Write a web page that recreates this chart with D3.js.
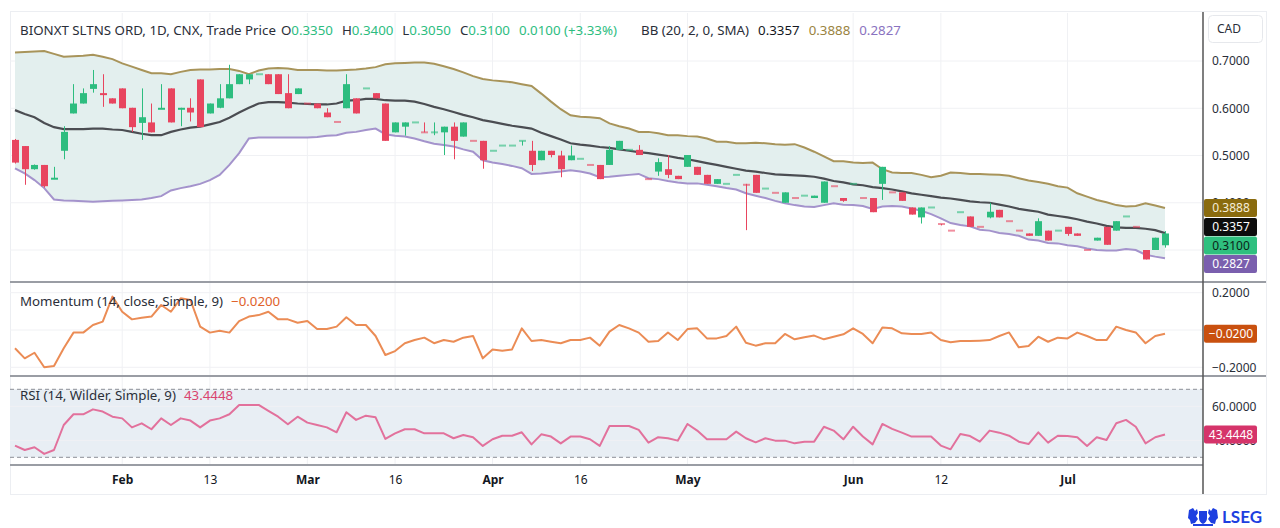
<!DOCTYPE html>
<html>
<head>
<meta charset="utf-8">
<script src="https://cdn.jsdelivr.net/npm/d3@7"></script>
<style>
  html, body { margin: 0; padding: 0; background: #fff; }
  svg { display: block; font-family: "Noto Sans", sans-serif; }
</style>
</head>
<body>
<div id="chart"></div>
<script>
// ---- data (daily candles, index 0 = first visible bar) ----
const opens = [
  .533,.520,.471,.480,.452,.510,.589,.610,.641,.632, .621,.642,.601,.569,.570,.600,.642,.600,.601,.661,
  .589,.601,.621,.651,.661,.672,.672,.672,.632,.630, .610,.610,.591,.571,.600,.621,.642,.632,.610,.549,
  .561,.570,.549,.549,.549,.561,.540,.531,.531,.510, .521,.521,.531,.510,.490,.510,.500,.500,.493,.480,
  .480,.480,.512,.512,.512,.450,.466,.471,.457,.476, .476,.459,.440,.440,.459,.438,.459,.430,.421,.400,
  .410,.415,.410,.400,.435,.410,.440,.410,.410,.440, .422,.422,.390,.369,.390,.355,.341,.380,.371,.349,
  .369,.385,.361,.341,.335,.330,.341,.341,.349,.335, .300,.320,.349,.341,.371,.349,.300,.326,.335
];
const highs = [
  .535,.520,.481,.480,.476,.562,.651,.642,.681,.672, .621,.642,.601,.642,.610,.651,.642,.601,.621,.661,
  .610,.651,.692,.672,.672,.672,.672,.672,.672,.642, .610,.610,.600,.571,.672,.621,.642,.632,.610,.570,
  .570,.570,.570,.570,.561,.570,.570,.531,.531,.510, .521,.521,.531,.531,.510,.510,.510,.521,.493,.480,
  .480,.520,.531,.512,.522,.450,.494,.501,.457,.501, .476,.459,.450,.440,.459,.440,.459,.430,.421,.422,
  .410,.415,.415,.445,.435,.410,.440,.410,.410,.476, .422,.422,.390,.390,.390,.355,.341,.380,.371,.349,
  .400,.385,.361,.341,.335,.367,.341,.341,.349,.335, .300,.326,.349,.361,.371,.349,.300,.326,.340
];
const lows = [
  .483,.438,.470,.432,.450,.492,.589,.610,.633,.603, .610,.600,.550,.533,.549,.600,.570,.562,.572,.560,
  .589,.600,.621,.651,.651,.672,.651,.630,.600,.630, .610,.600,.581,.571,.600,.589,.642,.621,.531,.549,
  .542,.570,.549,.543,.501,.492,.540,.531,.472,.510, .521,.521,.521,.467,.490,.496,.454,.490,.493,.480,
  .450,.480,.512,.512,.501,.450,.457,.452,.450,.476, .459,.440,.440,.440,.459,.342,.421,.430,.421,.400,
  .410,.415,.410,.400,.435,.402,.440,.410,.380,.406, .422,.404,.375,.356,.390,.352,.341,.380,.349,.349,
  .367,.369,.361,.341,.330,.330,.320,.341,.330,.330, .300,.320,.311,.341,.371,.349,.280,.300,.305
];
const closes = [
  .485,.471,.480,.435,.453,.550,.610,.632,.651,.631, .610,.600,.560,.581,.549,.601,.570,.601,.591,.560,
  .610,.621,.651,.672,.672,.672,.651,.630,.600,.642, .610,.600,.581,.571,.651,.589,.642,.621,.531,.570,
  .570,.570,.549,.549,.561,.531,.570,.531,.490,.510, .521,.521,.531,.480,.510,.501,.471,.490,.493,.480,
  .450,.512,.531,.512,.501,.450,.486,.459,.450,.501, .459,.440,.450,.440,.459,.438,.421,.430,.421,.422,
  .410,.415,.415,.445,.435,.404,.440,.410,.380,.476, .422,.404,.375,.390,.390,.355,.341,.380,.349,.349,
  .381,.369,.361,.341,.330,.361,.320,.341,.334,.330, .300,.326,.311,.361,.371,.349,.280,.300,.310
];
// candle colour as drawn (u = rise vs previous close, d = fall)
const candleDir = ("dduduuuuud dddudududd uuuuuudddu ddddududdu uuduududdu " +
                   "uuududduud duuudduddu dduuuddudu duuudduddu ddduuddudd " +
                   "uddddududd duduudduu").replace(/ /g, "").split("");

const bbUpper = [
  .718,.719,.720,.721,.715,.709,.710,.711,.713,.709, .704,.695,.688,.681,.674,.674,.672,.677,.681,.682,
  .682,.683,.683,.679,.672,.680,.684,.685,.684,.681, .681,.681,.680,.680,.681,.682,.684,.687,.693,.695,
  .696,.697,.697,.694,.689,.683,.676,.668,.662,.659, .657,.655,.651,.647,.631,.614,.598,.585,.582,.581,
  .579,.568,.562,.557,.550,.550,.547,.543,.543,.541, .540,.536,.529,.529,.526,.526,.527,.526,.524,.523,
  .524,.517,.508,.498,.488,.488,.485,.484,.485,.471, .464,.463,.463,.459,.454,.457,.464,.463,.461,.461,
  .460,.459,.457,.452,.447,.444,.440,.435,.432,.420, .413,.406,.401,.395,.392,.393,.399,.394,.3888
];
const bbMiddle = [
  .596,.588,.581,.569,.560,.556,.556,.556,.557,.557, .555,.554,.550,.546,.543,.543,.550,.555,.559,.561,
  .566,.571,.580,.591,.601,.610,.613,.613,.612,.610, .609,.608,.608,.610,.616,.617,.620,.620,.617,.616,
  .616,.614,.609,.603,.598,.592,.586,.581,.575,.571, .567,.563,.560,.557,.548,.541,.534,.526,.523,.521,
  .518,.516,.513,.510,.507,.505,.502,.499,.495,.492, .488,.484,.480,.476,.472,.468,.466,.463,.460,.459,
  .458,.457,.455,.451,.446,.443,.439,.437,.433,.431, .428,.424,.420,.417,.414,.411,.409,.406,.403,.401,
  .400,.396,.392,.387,.384,.381,.375,.372,.369,.365, .360,.356,.351,.348,.347,.347,.345,.342,.3357
];
const bbLower = [
  .473,.462,.448,.431,.407,.405,.404,.403,.402,.403, .404,.405,.406,.407,.410,.414,.426,.431,.435,.440,
  .448,.459,.480,.505,.536,.538,.538,.538,.538,.538, .538,.539,.542,.543,.548,.550,.554,.557,.545,.542,
  .540,.536,.530,.525,.522,.519,.513,.508,.490,.485, .482,.478,.473,.461,.462,.464,.466,.469,.466,.462,
  .454,.455,.457,.459,.461,.452,.450,.446,.443,.441, .441,.438,.435,.431,.428,.420,.415,.410,.404,.399,
  .395,.392,.391,.395,.399,.396,.395,.393,.387,.392, .393,.392,.388,.383,.376,.367,.357,.353,.350,.343,
  .341,.336,.334,.330,.322,.320,.315,.314,.310,.308, .303,.300,.299,.299,.302,.300,.290,.286,.2827
];
const momentum = [
  -0.098,-0.152,-0.122,-0.200,-0.193,-0.098,-0.014,-0.014,0.027,0.045,
  0.179,0.098,0.057,0.066,0.072,0.134,0.098,0.170,0.161,0.018,
  -0.014,-0.004,-0.014,0.048,0.072,0.080,0.098,0.057,0.057,0.039,
  0.048,0.005,0.005,0.018,0.068,0.027,0.027,-0.032,-0.134,-0.113,
  -0.071,-0.054,-0.041,-0.071,-0.054,-0.063,-0.041,-0.032,-0.152,-0.104,
  -0.111,-0.104,0.009,-0.059,-0.054,-0.063,-0.071,-0.054,-0.054,-0.041,
  -0.084,-0.009,0.027,0.009,-0.014,-0.063,-0.059,-0.013,-0.054,0.005,
  0.009,-0.045,-0.045,-0.032,0.018,-0.068,-0.084,-0.071,-0.071,-0.021,
  -0.050,-0.039,-0.030,-0.050,-0.036,-0.023,0.009,-0.021,-0.071,0.013,
  0.009,-0.018,-0.021,-0.021,-0.013,-0.054,-0.066,-0.059,-0.059,-0.057,
  -0.054,-0.032,-0.013,-0.093,-0.086,-0.036,-0.063,-0.041,-0.045,-0.014,
  -0.032,-0.054,-0.054,0.018,0.000,-0.013,-0.071,-0.032,-0.020
];
const rsi = [
  36.9,34.3,35.9,32.0,34.3,49.0,55.3,55.3,58.2,56.9,
  53.9,52.9,47.6,50.0,46.5,52.9,49.0,52.9,51.6,47.6,
  51.6,52.9,55.3,60.8,60.8,60.8,57.3,53.9,49.4,53.9,
  50.4,49.0,47.6,44.7,56.5,52.0,54.5,53.5,40.8,44.1,
  46.5,46.5,44.1,44.1,44.1,41.2,43.1,41.8,36.7,40.6,
  42.7,42.7,44.7,37.6,43.5,42.2,38.2,42.2,42.2,40.6,
  36.7,48.4,48.4,48.4,46.1,38.6,41.8,41.2,39.8,49.6,
  45.7,40.6,40.6,40.6,45.1,41.2,38.8,41.2,39.8,39.8,
  38.2,39.2,39.2,48.0,45.7,40.6,48.0,42.2,37.6,49.6,
  46.7,44.5,42.2,42.2,42.2,36.9,34.7,43.7,42.5,39.2,
  45.7,44.5,42.7,39.2,37.8,44.7,38.6,42.7,42.5,41.8,
  36.7,41.8,40.2,50.0,52.0,48.0,38.2,41.8,43.4448
];

const tickIndex = [11, 20, 30, 39, 49, 58, 69, 86, 95, 108];
const tickLabels = ["Feb", "13", "Mar", "16", "Apr", "16", "May", "Jun", "12", "Jul"];
const priceTicks = [0.3, 0.4, 0.5, 0.6, 0.7];
const momTicks = [-0.2, 0, 0.2];
const rsiTicks = [40, 60];

// ---- layout ----
const W = 1280, H = 528;
const plotL = 10, plotR = 1203;
const pricePane = { top: 13, bottom: 282 };
const momPane = { top: 283, bottom: 376 };
const rsiPane = { top: 377, bottom: 465 };
const n = closes.length;

const upCol = "#2dbd7f", downCol = "#e8455f";
const dark = "#131722";
const grid = "#f0f1f4";

const x = d3.scaleLinear().domain([0, n - 1]).range([15, 1165]);
const yP = d3.scaleLinear().domain([0.3, 0.7]).range([250, 61]);
const yM = d3.scaleLinear().domain([-0.2, 0.2]).range([367.3, 292.7]);
const yR = d3.scaleLinear().domain([30, 70]).range([457.3, 389.3]);
const f4 = d3.format(".4f");

const svg = d3.select("#chart").append("svg")
  .attr("width", W).attr("height", H);

// card outline
svg.append("rect")
  .attr("x", 10.5).attr("y", 11.5).attr("width", 1256).attr("height", 483)
  .attr("fill", "#fff").attr("stroke", "#eceef2");

const defs = svg.append("defs");
[["clipP", pricePane], ["clipM", momPane], ["clipR", rsiPane]].forEach(([id, p]) => {
  defs.append("clipPath").attr("id", id).append("rect")
    .attr("x", plotL).attr("y", p.top).attr("width", plotR - plotL).attr("height", p.bottom - p.top);
});

// vertical grid
svg.append("g").selectAll("line").data(tickIndex).join("line")
  .attr("x1", d => x(d)).attr("x2", d => x(d))
  .attr("y1", pricePane.top).attr("y2", rsiPane.bottom)
  .attr("stroke", grid).attr("stroke-width", 1);

// horizontal grid
function hgrid(ticks, scale) {
  svg.append("g").selectAll("line").data(ticks).join("line")
    .attr("x1", plotL).attr("x2", plotR)
    .attr("y1", d => scale(d)).attr("y2", d => scale(d))
    .attr("stroke", grid).attr("stroke-width", 1);
}
hgrid(priceTicks, yP);
hgrid(momTicks, yM);

// RSI band
svg.append("rect")
  .attr("x", plotL).attr("width", plotR - plotL)
  .attr("y", yR(70)).attr("height", yR(30) - yR(70))
  .attr("fill", "#e8eef4");
hgrid(rsiTicks, yR);
svg.append("g").selectAll("line").data([70, 30]).join("line")
  .attr("x1", plotL).attr("x2", plotR)
  .attr("y1", d => yR(d)).attr("y2", d => yR(d))
  .attr("stroke", "#8c8f96").attr("stroke-width", 1).attr("stroke-dasharray", "4,3");

// ---- price pane ----
const gP = svg.append("g").attr("clip-path", "url(#clipP)");
const idx = d3.range(n);

gP.append("path")
  .attr("d", d3.area().x(i => x(i)).y0(i => yP(bbLower[i])).y1(i => yP(bbUpper[i]))(idx))
  .attr("fill", "#e3efee");

const line = (arr, sc) => d3.line().x(i => x(i)).y(i => sc(arr[i]))(idx);
gP.append("path").attr("d", line(bbUpper, yP)).attr("fill", "none")
  .attr("stroke", "#a8945a").attr("stroke-width", 2);
gP.append("path").attr("d", line(bbLower, yP)).attr("fill", "none")
  .attr("stroke", "#a493cc").attr("stroke-width", 2);
gP.append("path").attr("d", line(bbMiddle, yP)).attr("fill", "none")
  .attr("stroke", "#4b4d52").attr("stroke-width", 2.2);

const candles = gP.append("g").selectAll("g").data(idx).join("g");
candles.append("line")
  .attr("x1", i => Math.round(x(i)) + 0.5).attr("x2", i => Math.round(x(i)) + 0.5)
  .attr("y1", i => yP(highs[i])).attr("y2", i => yP(lows[i]))
  .attr("stroke", i => candleDir[i] === "u" ? upCol : downCol)
  .attr("stroke-width", 1);
candles.append("rect")
  .attr("x", i => Math.round(x(i)) - 3)
  .attr("width", 7)
  .attr("y", i => {
    const t = yP(Math.max(opens[i], closes[i]));
    return opens[i] === closes[i] ? t - 1 : t;
  })
  .attr("height", i => Math.max(2, Math.abs(yP(opens[i]) - yP(closes[i]))))
  .attr("fill", i => candleDir[i] === "u" ? upCol : downCol)
  .attr("opacity", i => opens[i] === closes[i] ? 0.6 : 1);

// ---- momentum pane ----
svg.append("g").attr("clip-path", "url(#clipM)").append("path")
  .attr("d", line(momentum, yM)).attr("fill", "none")
  .attr("stroke", "#eb8c55").attr("stroke-width", 2).attr("stroke-linejoin", "round");

// ---- RSI pane ----
svg.append("g").attr("clip-path", "url(#clipR)").append("path")
  .attr("d", line(rsi, yR)).attr("fill", "none")
  .attr("stroke", "#e2719c").attr("stroke-width", 2).attr("stroke-linejoin", "round");

// pane separators and axis frame
svg.append("g").selectAll("line").data([pricePane.bottom, momPane.bottom]).join("line")
  .attr("x1", plotL).attr("x2", 1266).attr("y1", d => d).attr("y2", d => d)
  .attr("stroke", "#9a9da4").attr("stroke-width", 2);
svg.append("line").attr("x1", plotL).attr("x2", plotR)
  .attr("y1", rsiPane.bottom).attr("y2", rsiPane.bottom)
  .attr("stroke", "#9a9da4").attr("stroke-width", 2);
svg.append("line").attr("x1", plotR).attr("x2", plotR).attr("y1", 12).attr("y2", 494)
  .attr("stroke", "#555").attr("stroke-width", 1.5);

// ---- right axes ----
function rightAxis(scale, ticks, fmt) {
  const g = svg.append("g").attr("transform", `translate(${plotR},0)`)
    .call(d3.axisRight(scale).tickValues(ticks).tickFormat(fmt).tickSize(0).tickPadding(9));
  g.select(".domain").remove();
  g.selectAll("text").attr("font-size", 12).attr("fill", "#2a2e39")
    .attr("font-family", "Noto Sans, sans-serif");
}
// 0.3000 and 0.0000 sit fully under the value tags, so their labels stay blank
rightAxis(yP, priceTicks, d => d === 0.3 ? "" : f4(d));
rightAxis(yM, momTicks, d => d === 0 ? "" : f4(d));
rightAxis(yR, rsiTicks, f4);

// bottom axis
const gx = svg.append("g").attr("transform", `translate(0,${rsiPane.bottom})`)
  .call(d3.axisBottom(x).tickValues(tickIndex)
    .tickFormat((d, i) => tickLabels[i]).tickSize(0).tickPadding(10));
gx.select(".domain").remove();
gx.selectAll("text").attr("font-size", 12).attr("fill", dark)
  .attr("font-family", "Noto Sans, sans-serif")
  .attr("font-weight", (d, i) => /^\d+$/.test(tickLabels[i]) ? 400 : 700);

// ---- value tags on the right ----
function tag(y, val, fill, txt) {
  const g = svg.append("g");
  g.append("rect").attr("x", 1204).attr("y", y - 9).attr("width", 53).attr("height", 18)
    .attr("rx", 2).attr("fill", fill);
  g.append("text").attr("x", 1231).attr("y", y).attr("dy", "0.35em")
    .attr("text-anchor", "middle").attr("font-size", 12).attr("fill", txt).text(val);
}
const last = n - 1;
const priceTags = [
  { v: bbUpper[last], fill: "#8a6b0e", txt: "#f6eed8" },
  { v: bbMiddle[last], fill: "#0d0d0d", txt: "#ffffff" },
  { v: closes[last], fill: "#2fc07f", txt: "#0b2418" },
  { v: bbLower[last], fill: "#7a5fae", txt: "#ffffff" }
].map(d => ({ ...d, y: yP(d.v) }));
priceTags.sort((a, b) => a.y - b.y);
for (let k = 0; k < 80; k++) {
  for (let i = 1; i < priceTags.length; i++) {
    const gap = priceTags[i].y - priceTags[i - 1].y;
    if (gap < 18.5) {
      const d = (18.5 - gap) / 2;
      priceTags[i - 1].y -= d;
      priceTags[i].y += d;
    }
  }
}
priceTags.forEach(d => tag(d.y, f4(d.v), d.fill, d.txt));
tag(yM(momentum[last]), f4(momentum[last]), "#c9500f", "#ffffff");
tag(yR(rsi[last]), f4(rsi[last]), "#d5346a", "#ffffff");

// CAD box
svg.append("rect").attr("x", 1208.5).attr("y", 15.5).attr("width", 54).attr("height", 27)
  .attr("rx", 4).attr("fill", "#fff").attr("stroke", "#e6e8ec");
svg.append("text").attr("x", 1217).attr("y", 29).attr("dy", "0.35em")
  .attr("font-size", 12).attr("fill", "#2a2e39").text("CAD");

// ---- legends ----
const green = "#2dbd7f";
function legend(xPos, yPos, parts) {
  const t = svg.append("text").attr("x", xPos).attr("y", yPos).attr("dy", "0.35em")
    .attr("font-size", 13.3);
  parts.forEach(p => {
    t.append("tspan").attr("dx", p.dx || 0).attr("fill", p.c || dark).text(p.t);
  });
}
const chg = closes[last] - closes[last - 1];
const pct = chg / closes[last - 1] * 100;
legend(20, 30, [
  { t: "BIONXT SLTNS ORD, 1D, CNX, Trade Price", c: "#2a2e39" },
  { t: "O", dx: 5, c: "#2a2e39" }, { t: f4(opens[last]), c: green },
  { t: "H", dx: 9, c: "#2a2e39" }, { t: f4(highs[last]), c: green },
  { t: "L", dx: 9, c: "#2a2e39" }, { t: f4(lows[last]), c: green },
  { t: "C", dx: 9, c: "#2a2e39" }, { t: f4(closes[last]), c: green },
  { t: `${f4(chg)} (${pct >= 0 ? "+" : ""}${pct.toFixed(2)}%)`, dx: 9, c: green }
]);
legend(641, 30, [
  { t: "BB (20, 2, 0, SMA)", c: "#2a2e39" },
  { t: f4(bbMiddle[last]), dx: 9, c: dark },
  { t: f4(bbUpper[last]), dx: 9, c: "#9a8340" },
  { t: f4(bbLower[last]), dx: 9, c: "#8a72c0" }
]);
legend(20, 301, [
  { t: "Momentum (14, close, Simple, 9)", c: "#2a2e39" },
  { t: f4(momentum[last]), dx: 8, c: "#e0622c" }
]);
legend(20, 395, [
  { t: "RSI (14, Wilder, Simple, 9)", c: "#2a2e39" },
  { t: f4(rsi[last]), dx: 8, c: "#d9436f" }
]);

// ---- LSEG mark ----
const logo = svg.append("g").attr("fill", "#1d3fe0");
logo.append("path").attr("d",
  "M1189,510 l4,-2 l2,3 l2,-2 l1,4 l-2,3 l2,3 l-3,4 l-4,1 l-1,-4 l-2,-2 z" +
  "M1217,510 l-4,-2 l-2,3 l-2,-2 l-1,4 l2,3 l-2,3 l3,4 l4,1 l1,-4 l2,-2 z" +
  "M1199,511 h8 v7 q0,4 -4,6 q-4,-2 -4,-6 z" +
  "M1193,524 h20 v2 h-20 z");
svg.append("text").attr("x", 1222).attr("y", 523).attr("font-size", 17)
  .attr("font-weight", 700).attr("font-family", "Lato, sans-serif")
  .attr("fill", "#1d3fe0").text("LSEG");
</script>
</body>
</html>
